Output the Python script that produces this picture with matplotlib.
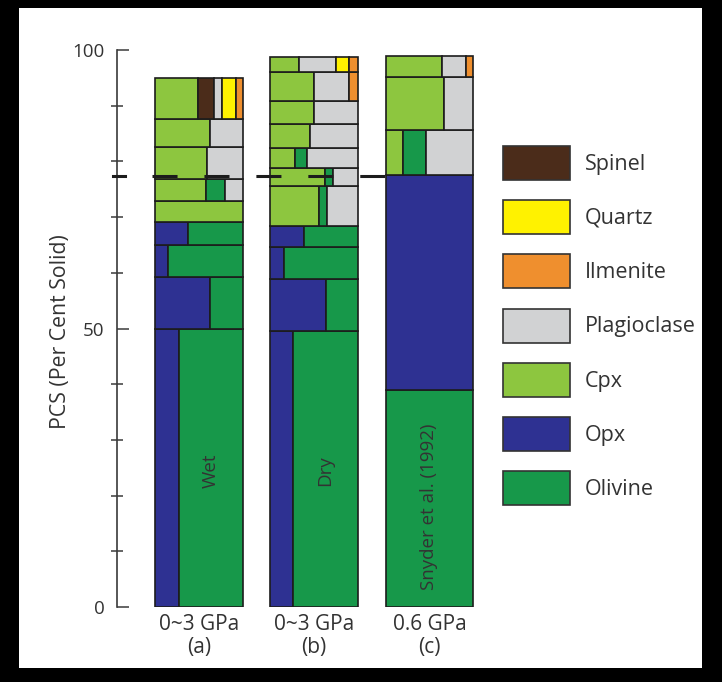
"""
Stacked mineral-mode columns (PCS) for wet / dry crystallisation runs
compared with Snyder et al. (1992).
"""

import matplotlib
matplotlib.use("Agg")
import matplotlib.pyplot as plt
from matplotlib.patches import Patch, Rectangle

plt.rcParams["font.family"] = ["Open Sans", "DejaVu Sans"]

OUT_FIG = "out.png"

# --- Data ---
MINERALS = ["Spinel", "Quartz", "Ilmenite", "Plagioclase", "Cpx", "Opx", "Olivine"]
COLORS = ["#4b2c1a", "#fff200", "#ef8f2e", "#d1d2d3", "#8dc63f", "#2e3192", "#17984a"]

COLUMN_LABELS = ["0~3 GPa\n(a)", "0~3 GPa\n(b)", "0.6 GPa\n(c)"]
COLUMN_NOTES = ["Wet", "Dry", "Snyder et al. (1992)"]

# layer boundaries in PCS, bottom to top
WET_EDGES = [0, 49.9, 59.2, 65.0, 69.2, 72.9, 76.8, 82.6, 87.7, 94.9]
WET_LAYERS = [
    [("Opx", 27), ("Olivine", 73)],
    [("Opx", 63), ("Olivine", 37)],
    [("Opx", 15), ("Olivine", 85)],
    [("Opx", 38), ("Olivine", 62)],
    [("Cpx", 100)],
    [("Cpx", 58), ("Olivine", 22), ("Plagioclase", 20)],
    [("Cpx", 59), ("Plagioclase", 41)],
    [("Cpx", 63), ("Plagioclase", 37)],
    [("Cpx", 49), ("Spinel", 18), ("Plagioclase", 9), ("Quartz", 16), ("Ilmenite", 8)],
]

DRY_EDGES = [0, 49.6, 58.8, 64.7, 68.4, 75.5, 78.9, 82.4, 86.8, 90.9, 96.1, 98.7]
DRY_LAYERS = [
    [("Opx", 26), ("Olivine", 74)],
    [("Opx", 63), ("Olivine", 37)],
    [("Opx", 16), ("Olivine", 84)],
    [("Opx", 38), ("Olivine", 62)],
    [("Cpx", 55), ("Olivine", 10), ("Plagioclase", 35)],
    [("Cpx", 62), ("Olivine", 10), ("Plagioclase", 28)],
    [("Cpx", 28), ("Olivine", 14), ("Plagioclase", 58)],
    [("Cpx", 45), ("Plagioclase", 55)],
    [("Cpx", 50), ("Plagioclase", 50)],
    [("Cpx", 50), ("Plagioclase", 40), ("Ilmenite", 10)],
    [("Cpx", 33), ("Plagioclase", 42), ("Quartz", 15), ("Ilmenite", 10)],
]

SNYDER_EDGES = [0, 39.0, 77.6, 85.6, 95.2, 98.9]
SNYDER_LAYERS = [
    [("Olivine", 100)],
    [("Opx", 100)],
    [("Cpx", 20), ("Olivine", 26), ("Plagioclase", 54)],
    [("Cpx", 67), ("Plagioclase", 33)],
    [("Cpx", 64), ("Plagioclase", 28), ("Ilmenite", 8)],
]

NOTE_LEVELS = [24.5, 24.5, 18.0]
DASH_LEVEL = 77.3

# --- Style ---
BAR_W = 0.76
EDGE = "#1c1c1c"
TEXT = "#333333"
XMIN, XMAX = -0.711, 2.5
COLOR_OF = dict(zip(MINERALS, COLORS))


def draw_column(ax, i, edges, layers):
    left0 = i - BAR_W / 2
    for lo, hi, parts in zip(edges[:-1], edges[1:], layers):
        x = left0
        for name, pct in parts:
            w = BAR_W * pct / 100
            ax.bar(x, hi - lo, width=w, bottom=lo, align="edge",
                   color=COLOR_OF[name], edgecolor=EDGE, linewidth=1.2, zorder=2)
            x += w


def main():
    fig = plt.figure(figsize=(7.22, 6.82), dpi=100, facecolor="black")
    fig.add_artist(Rectangle((19 / 722, 14 / 682), 683 / 722, 660 / 682,
                             transform=fig.transFigure, facecolor="white",
                             edgecolor="none", zorder=-10))

    ax = fig.add_axes([117 / 722, 75 / 682, 370 / 722, 557 / 682])
    ax.set_facecolor("none")

    columns = [(WET_EDGES, WET_LAYERS), (DRY_EDGES, DRY_LAYERS), (SNYDER_EDGES, SNYDER_LAYERS)]
    for i, (edges, layers) in enumerate(columns):
        draw_column(ax, i, edges, layers)

    # notes inside the bottom layer
    first_frac = [WET_LAYERS[0][0][1], DRY_LAYERS[0][0][1], 0]
    for i, (note, lvl) in enumerate(zip(COLUMN_NOTES, NOTE_LEVELS)):
        f = first_frac[i]
        xc = i - BAR_W / 2 + BAR_W * (f + (100 - f) / 2) / 100
        ax.text(xc, lvl, note, rotation=90, ha="center", va="center",
                fontsize=13.5, color=TEXT, zorder=3)

    # dashed reference level
    ax.plot([-BAR_W / 2 - 0.03, 2 - BAR_W / 2], [DASH_LEVEL, DASH_LEVEL],
            color=EDGE, lw=2.2, ls=(0, (8.2, 8.8)), zorder=4, solid_capstyle="butt")
    ax.plot([XMIN - 0.035, XMIN + 0.07], [DASH_LEVEL, DASH_LEVEL],
            color=EDGE, lw=2.2, clip_on=False, zorder=4)

    ax.set_xlim(XMIN, XMAX)
    ax.set_ylim(0, 100)
    for s in ("top", "right", "bottom"):
        ax.spines[s].set_visible(False)
    ax.spines["left"].set_bounds(0, 100)
    ax.spines["left"].set_color("#3a3a3a")
    ax.spines["left"].set_linewidth(1.2)

    ax.set_yticks([0, 50, 100])
    ax.set_yticks([10, 20, 30, 40, 60, 70, 80, 90], minor=True)
    ax.tick_params(axis="y", which="major", direction="in", length=8.6, width=1.1,
                   pad=9, labelsize=13.5, labelcolor=TEXT, color="#3a3a3a")
    ax.tick_params(axis="y", which="minor", direction="inout", length=8.6, width=1.1,
                   color="#3a3a3a")
    ax.set_xticks(range(3), COLUMN_LABELS)
    ax.tick_params(axis="x", length=0, pad=5, labelsize=15, labelcolor=TEXT)
    for t in ax.get_xticklabels():
        t.set_linespacing(1.1)

    ax.set_ylabel("PCS (Per Cent Solid)", fontsize=15.3, color=TEXT)
    ax.yaxis.set_label_coords(-0.125, 0.495)

    handles = [Patch(facecolor=c, edgecolor="#333333", linewidth=1.2) for c in COLORS]
    fig.legend(handles, MINERALS, loc="upper left", bbox_to_anchor=(503 / 722, 1 - 146 / 682),
               frameon=False, borderpad=0, borderaxespad=0, fontsize=15.5,
               handlelength=3.11, handleheight=2.05, handletextpad=0.70,
               labelspacing=0.94, labelcolor=TEXT)

    fig.savefig(OUT_FIG, dpi=100, facecolor=fig.get_facecolor())


if __name__ == "__main__":
    main()
